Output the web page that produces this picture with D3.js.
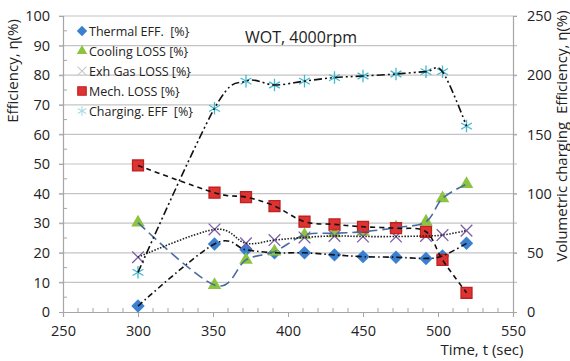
<!DOCTYPE html>
<html>
<head>
<meta charset="utf-8">
<script src="https://cdn.jsdelivr.net/npm/d3@7"></script>
<style>
  body { margin: 0; background: #fff; }
  svg { display: block; font-family: "Open Sans", sans-serif; }
</style>
</head>
<body>
<div id="chart"></div>
<script>
// values
const time = [300, 351, 372, 391, 411, 431, 450, 472, 492, 503, 519];
const thermal = [2, 23, 21, 20, 20, 19.3, 18.7, 18.5, 18.1, 18.9, 23.2];
const cooling = [30.2, 9.1, 17.6, 20.4, 26, 26.6, 27.1, 28.5, 30.5, 38.4, 43.2];
const exhGas = [18.5, 27.9, 23.2, 24.3, 25.2, 25.7, 25.5, 25.5, 25.7, 26, 27.5];
const mech = [49.5, 40.3, 38.8, 35.8, 30.5, 29.6, 28.8, 28.3, 27.1, 17.6, 6.5];
const charging = [33.5, 172, 195, 191.7, 195, 198, 199.3, 201, 203, 203, 157];

const xTicks = [250, 300, 350, 400, 450, 500, 550];
const yTicks = [0, 10, 20, 30, 40, 50, 60, 70, 80, 90, 100];
const y2Ticks = [0, 50, 100, 150, 200, 250];

const width = 570, height = 361;

const svg = d3.select("#chart").append("svg")
  .attr("width", width)
  .attr("height", height);

svg.append("rect").attr("width", width).attr("height", height).attr("fill", "#fff");

const x = d3.scaleLinear().domain([250, 550]).range([63, 513]);
const y = d3.scaleLinear().domain([0, 100]).range([312, 16]);
const y2 = d3.scaleLinear().domain([0, 250]).range([312, 16]);

// gridlines
svg.append("g").selectAll("line")
  .data(yTicks.slice(1))
  .enter().append("line")
  .attr("x1", 59).attr("x2", 517)
  .attr("y1", d => y(d)).attr("y2", d => y(d))
  .attr("stroke", "#c4c4c4").attr("stroke-width", 1.2);

// minor ticks
svg.append("g").selectAll("line")
  .data(d3.range(260, 550, 10).filter(d => d % 50 != 0))
  .enter().append("line")
  .attr("x1", d => x(d)).attr("x2", d => x(d))
  .attr("y1", 312).attr("y2", 308)
  .attr("stroke", "#a6a6a6");

svg.append("g").selectAll("line")
  .data(d3.range(5, 100, 10))
  .enter().append("line")
  .attr("x1", 63).attr("x2", 67)
  .attr("y1", d => y(d)).attr("y2", d => y(d))
  .attr("stroke", "#a6a6a6");

// axes
const xAxis = svg.append("g")
  .attr("transform", "translate(0,312)")
  .call(d3.axisBottom(x).tickValues(xTicks).tickSize(5).tickPadding(9));
const yAxis = svg.append("g")
  .attr("transform", "translate(63,0)")
  .call(d3.axisLeft(y).tickValues(yTicks).tickSize(4).tickPadding(9));
const y2Axis = svg.append("g")
  .attr("transform", "translate(513,0)")
  .call(d3.axisRight(y2).tickValues(y2Ticks).tickSize(4).tickPadding(10));

[xAxis, yAxis, y2Axis].forEach(g => {
  g.select(".domain").attr("stroke", "#a6a6a6").attr("stroke-width", 1.2);
  g.selectAll(".tick line").attr("stroke", "#a6a6a6");
  g.selectAll("text").attr("font-size", 14.5).attr("fill", "#222")
    .attr("font-family", "Open Sans, sans-serif");
});

// markers
function marker(type, size) {
  return d3.symbol().type(type).size(size);
}

const series = [
  {name: "Thermal EFF.  [%}", values: thermal, scale: y, sym: d3.symbolDiamond2, size: 115,
   fill: "#3a7fd0", stroke: "none", dash: "6,3,1.5,3", lineColor: "#111"},
  {name: "Cooling LOSS [%}", values: cooling, scale: y, sym: d3.symbolTriangle, size: 80,
   fill: "#8dc43f", stroke: "none", dash: "10,5", lineColor: "#4a6aa0"},
  {name: "Exh Gas LOSS [%}", values: exhGas, scale: y, sym: d3.symbolTimes, size: 90,
   fill: "none", stroke: "#7b5ea8", dash: "1.5,1.5", lineColor: "#222", legendStroke: "#c8c8c8"},
  {name: "Mech. LOSS [%}", values: mech, scale: y, sym: d3.symbolSquare, size: 120,
   fill: "#dd3333", stroke: "#c02020", dash: "5,4", lineColor: "#111"},
  {name: "Charging. EFF  [%}", values: charging, scale: y2, sym: d3.symbolAsterisk, size: 110,
   fill: "none", stroke: "#45b8cf", dash: "8,3,2,3,2,3", lineColor: "#111", legendStroke: "#a8dbe8"}
];

series.forEach(s => {
  svg.append("g").selectAll("path")
    .data(time.map((t, i) => [t, s.values[i]]))
    .enter().append("path")
    .attr("transform", d => `translate(${x(d[0])},${s.scale(d[1])})`)
    .attr("d", marker(s.sym, s.size))
    .attr("fill", s.fill)
    .attr("stroke", s.stroke)
    .attr("stroke-width", 1.3);
});

series.forEach(s => {
  const line = d3.line()
    .x((d, i) => x(time[i]))
    .y(d => s.scale(d))
    .curve(d3.curveCardinal.tension(0));
  svg.append("path")
    .datum(s.values)
    .attr("d", line)
    .attr("fill", "none")
    .attr("stroke", s.lineColor)
    .attr("stroke-width", 1.6)
    .attr("stroke-dasharray", s.dash);
});

// legend
const legend = svg.append("g");
series.forEach((s, i) => {
  const ly = 31 + i * 20;
  legend.append("path")
    .attr("transform", `translate(82,${ly})`)
    .attr("d", marker(s.sym, s.size * 0.6))
    .attr("fill", s.fill)
    .attr("stroke", s.legendStroke || s.stroke)
    .attr("stroke-width", 1.1);
  legend.append("text")
    .attr("x", 89).attr("y", ly + 4.5)
    .attr("font-size", 12.5)
    .attr("fill", "#222")
    .style("white-space", "pre")
    .text(s.name);
});

// title and axis labels
svg.append("text")
  .attr("x", 301).attr("y", 43)
  .attr("text-anchor", "middle")
  .attr("font-size", 16)
  .attr("fill", "#222")
  .text("WOT, 4000rpm");

svg.append("text")
  .attr("transform", "translate(18,71) rotate(-90)")
  .attr("text-anchor", "middle")
  .attr("font-size", 15)
  .attr("fill", "#222")
  .text("Efficiency, η(%)");

svg.append("text")
  .attr("transform", "translate(567,136) rotate(-90)")
  .attr("text-anchor", "middle")
  .attr("font-size", 15)
  .attr("fill", "#222")
  .style("white-space", "pre")
  .text("Volumetric charging  Efficiency, η(%)");

svg.append("text")
  .attr("x", 482).attr("y", 355)
  .attr("text-anchor", "middle")
  .attr("font-size", 15)
  .attr("fill", "#222")
  .text("Time, t (sec)");
</script>
</body>
</html>
